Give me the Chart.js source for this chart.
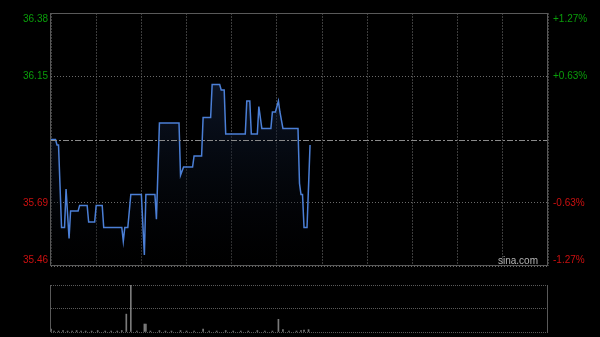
<!DOCTYPE html>
<html>
<head>
<meta charset="utf-8">
<title>sina intraday</title>
<script src="https://cdn.jsdelivr.net/npm/chart.js@4/dist/chart.umd.min.js"></script>
<style>
  html, body { margin: 0; padding: 0; background: #000; }
  #wrap { position: relative; width: 600px; height: 337px; background: #000; overflow: hidden; }
  #priceChart { position: absolute; left: 0; top: 0; }
  #volChart { position: absolute; left: 0; top: 275px; }
</style>
</head>
<body>
<div id="wrap">
  <canvas id="priceChart" width="600" height="275"></canvas>
  <canvas id="volChart" width="600" height="62"></canvas>
</div>
<script>
// trading minutes since open (HK session, 330 minutes)
const minutes = [0, 3, 4, 5, 7, 9, 10, 12, 13, 18, 19, 24, 25, 29, 30, 34, 35, 47, 48, 49, 51, 53, 60, 62, 63, 69, 70, 72,
  85, 86, 88, 94, 95, 100, 101, 106, 107, 112, 113, 115, 116, 129, 130, 132, 133, 137, 138, 140, 146, 147, 149,
  151, 152, 154, 164, 165, 166, 167, 168, 170, 172];
const prices = [35.92, 35.92, 35.90, 35.90, 35.60, 35.60, 35.74, 35.56, 35.66, 35.66, 35.68, 35.68, 35.62, 35.62, 35.68, 35.68,
  35.60, 35.60, 35.55, 35.60, 35.60, 35.72, 35.72, 35.50, 35.72, 35.72, 35.63, 35.98,
  35.98, 35.79, 35.82, 35.82, 35.86, 35.86, 36.00, 36.00, 36.12, 36.12, 36.10, 36.10, 35.94, 35.94, 36.06, 36.06,
  35.94, 35.94, 36.04, 35.96, 35.96, 36.02, 36.02, 36.06, 36.02, 35.96, 35.96, 35.76, 35.72, 35.72, 35.60, 35.60, 35.90];

const volMinutes = [0, 2, 5, 8, 11, 14, 17, 20, 23, 27, 31, 36, 40, 44, 47, 50, 53, 57, 62, 63, 66, 72, 76, 80, 86, 90,
  95, 101, 105, 110, 116, 121, 126, 131, 137, 142, 147, 151, 154, 158, 163, 166, 168, 171];
const volumes = [6, 2, 2, 3, 2, 2, 3, 2, 2, 2, 3, 2, 2, 2, 3, 38, 100, 2, 17, 17, 2, 3, 2, 2, 3, 2,
  2, 6, 2, 2, 3, 2, 2, 2, 3, 2, 2, 27, 5, 2, 2, 3, 4, 5];

const prevClose = 35.92;
const priceTicks = [35.46, 35.69, 35.92, 36.15, 36.38];
const pctLabels = ['-1.27%', '-0.63%', '', '+0.63%', '+1.27%'];
const timeTicks = [0, 30, 60, 90, 120, 150, 180, 210, 240, 270, 300, 330];

document.addEventListener('DOMContentLoaded', function() {
  const green = '#0a9d0a';
  const red = '#cc1010';
  const frame = '#595959';

  // labels, middle line and frame drawn on top of the price chart
  const priceDecor = {
    id: 'priceDecor',
    afterDraw(chart) {
      const ctx = chart.ctx;
      const area = chart.chartArea;
      const yScale = chart.scales.y;

      ctx.save();
      // prev close dash-dot line
      const yMid = Math.round(yScale.getPixelForValue(prevClose)) + 0.5;
      ctx.strokeStyle = '#8a8a8a';
      ctx.lineWidth = 1;
      ctx.setLineDash([6, 2, 2, 2]);
      ctx.beginPath();
      ctx.moveTo(area.left, yMid);
      ctx.lineTo(area.right, yMid);
      ctx.stroke();

      ctx.setLineDash([]);
      ctx.strokeStyle = frame;
      ctx.strokeRect(area.left - 0.5, area.top + 0.5, area.right - area.left, area.bottom - area.top - 1);

      ctx.font = '10px "Liberation Sans", Arial, sans-serif';
      ctx.textBaseline = 'middle';
      priceTicks.forEach(function(v, i) {
        if (v === prevClose) return;
        let y = yScale.getPixelForValue(v);
        if (i === priceTicks.length - 1) y += 6;
        if (i === 0) y -= 6;
        ctx.fillStyle = v > prevClose ? green : red;
        ctx.textAlign = 'right';
        ctx.fillText(v.toFixed(2), area.left - 3, y);
        ctx.textAlign = 'left';
        ctx.fillText(pctLabels[i], area.right + 5, y);
      });

      ctx.fillStyle = '#b4b4b4';
      ctx.textAlign = 'right';
      ctx.fillText('sina.com', 538, area.bottom - 5);
      ctx.restore();
    }
  };

  const priceCtx = document.getElementById('priceChart').getContext('2d');
  new Chart(priceCtx, {
    type: 'line',
    data: {
      datasets: [{
        data: minutes.map((m, i) => ({ x: m, y: prices[i] })),
        borderColor: '#4b7fd6',
        borderWidth: 1.5,
        pointRadius: 0,
        tension: 0,
        fill: 'start',
        backgroundColor: function(context) {
          const area = context.chart.chartArea;
          if (!area) return 'rgba(20,35,65,0.6)';
          const g = context.chart.ctx.createLinearGradient(0, area.top, 0, area.bottom);
          g.addColorStop(0, 'rgba(28,48,88,0.75)');
          g.addColorStop(1, 'rgba(0,0,0,0.2)');
          return g;
        }
      }]
    },
    options: {
      responsive: false,
      animation: false,
      events: [],
      layout: { padding: { left: 51, right: 52, top: 13, bottom: 9 } },
      plugins: { legend: { display: false }, tooltip: { enabled: false } },
      scales: {
        x: {
          type: 'linear',
          min: 0,
          max: 330,
          afterBuildTicks: function(axis) { axis.ticks = timeTicks.map(v => ({ value: v })); },
          ticks: { display: false },
          grid: { color: '#3c3c3c', drawTicks: false, lineWidth: 1 },
          border: { display: false, dash: [2, 1] }
        },
        y: {
          min: 35.46,
          max: 36.38,
          afterBuildTicks: function(axis) { axis.ticks = priceTicks.map(v => ({ value: v })); },
          ticks: { display: false },
          grid: {
            drawTicks: false,
            color: function(c) { return c.tick && c.tick.value === prevClose ? 'rgba(0,0,0,0)' : '#6a6a6a'; }
          },
          border: { display: false, dash: [1, 2] }
        }
      }
    },
    plugins: [priceDecor]
  });

  const volDecor = {
    id: 'volDecor',
    afterDraw(chart) {
      const ctx = chart.ctx;
      const area = chart.chartArea;
      ctx.save();
      ctx.strokeStyle = frame;
      ctx.lineWidth = 1;
      ctx.beginPath();
      ctx.moveTo(area.left - 0.5, area.top);
      ctx.lineTo(area.left - 0.5, area.bottom);
      ctx.moveTo(area.right - 0.5, area.top);
      ctx.lineTo(area.right - 0.5, area.bottom);
      ctx.stroke();
      ctx.restore();
    }
  };

  const volCtx = document.getElementById('volChart').getContext('2d');
  new Chart(volCtx, {
    type: 'bar',
    data: {
      datasets: [{
        data: volMinutes.map((m, i) => ({ x: m, y: volumes[i] })),
        backgroundColor: '#7a7a7a',
        barThickness: 1
      }]
    },
    options: {
      responsive: false,
      animation: false,
      events: [],
      layout: { padding: { left: 51, right: 52, top: 10, bottom: 5 } },
      plugins: { legend: { display: false }, tooltip: { enabled: false } },
      scales: {
        x: {
          type: 'linear',
          display: false,
          min: 0,
          max: 330,
          offset: false
        },
        y: {
          min: 0,
          max: 100,
          afterBuildTicks: function(axis) { axis.ticks = [0, 50, 100].map(v => ({ value: v })); },
          ticks: { display: false },
          grid: { drawTicks: false, color: '#5a5a5a' },
          border: { display: false, dash: [1, 1] }
        }
      }
    },
    plugins: [volDecor]
  });
});
</script>
</body>
</html>
